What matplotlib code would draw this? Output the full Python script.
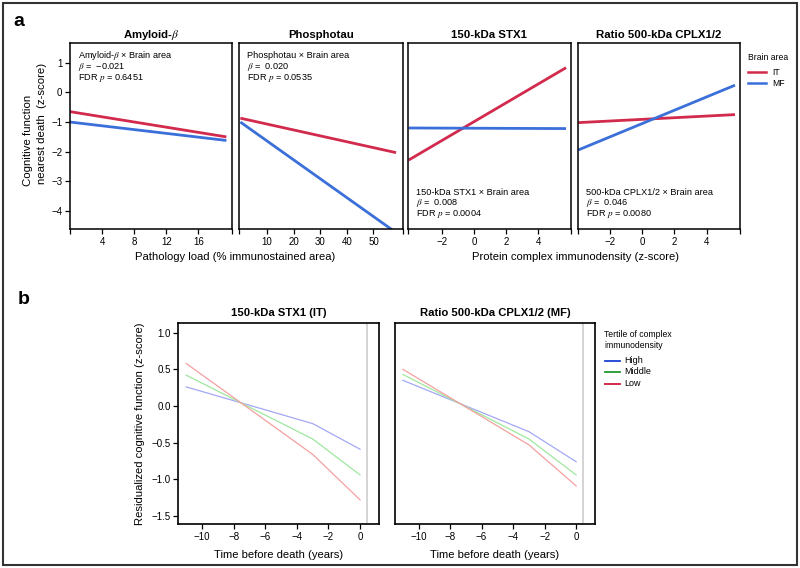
import matplotlib
matplotlib.use("Agg")
import matplotlib.pyplot as plt
from matplotlib.patches import Rectangle
from matplotlib.lines import Line2D

plt.rcParams['font.family'] = ['Liberation Sans', 'DejaVu Sans']
plt.rcParams['mathtext.fontset'] = 'stix'
plt.rcParams['axes.unicode_minus'] = True

# --- Data: panel a (fitted lines, IT vs MF) --- #
amyloid_x = [0, 19.5]
amyloid_it = [-0.65, -1.50]
amyloid_mf = [-1.00, -1.62]

phospho_x = [0, 58.5]
phospho_it = [-0.87, -2.03]
phospho_mf = [-1.00, -4.72]

stx1_x = [-4.1, 5.75]
stx1_it = [-2.28, 0.83]
stx1_mf = [-1.20, -1.22]

cplx_x = [-3.96, 5.75]
cplx_it = [-1.02, -0.75]
cplx_mf = [-1.94, 0.24]

# --- Data: panel b (tertile trajectories) --- #
time_x = [-11, -3, 0]
stx1_high = [0.26, -0.24, -0.59]
stx1_mid = [0.42, -0.45, -0.94]
stx1_low = [0.58, -0.66, -1.28]
cplx_high = [0.35, -0.35, -0.76]
cplx_mid = [0.43, -0.45, -0.94]
cplx_low = [0.50, -0.53, -1.09]

RED = '#d22a4c'
BLUE = '#3b6fd9'
W, H = 800, 568


def px_axes(fig, x0, x1, y0, y1):
    # pixel box (top-down y) -> figure axes
    return fig.add_axes([x0 / W, 1 - y1 / H, (x1 - x0) / W, (y1 - y0) / H])


def fx(x):
    return x / W


def fy(y):
    return 1 - y / H


def style_box(ax, lw=1.1):
    for s in ax.spines.values():
        s.set_linewidth(lw)
        s.set_color('black')
    ax.tick_params(direction='out', length=3.5, width=0.9, labelsize=7, pad=2)


fig = plt.figure(figsize=(W / 100, H / 100), dpi=100)

# outer frame
fig.patches.append(Rectangle((fx(3), fy(565)), fx(794), 562 / H, transform=fig.transFigure,
                             fill=False, edgecolor='#333333', linewidth=1.5))

# --- Panel a --- #
panels_a = [
    ('Amyloid-$\\mathit{\\beta}$', (70, 232), amyloid_x, amyloid_it, amyloid_mf, (0, 20.2), [4, 8, 12, 16],
     ['Amyloid-$\\beta$ × Brain area', '$\\beta$ =  −0.021', 'FDR $p$ = 0.6451'], 'top'),
    ('Phosphotau', (239.3, 402.7), phospho_x, phospho_it, phospho_mf, (-0.4, 61), [10, 20, 30, 40, 50],
     ['Phosphotau × Brain area', '$\\beta$ =  0.020', 'FDR $p$ = 0.0535'], 'top'),
    ('150-kDa STX1', (408.3, 570.7), stx1_x, stx1_it, stx1_mf, (-4.12, 6.04), [-2, 0, 2, 4],
     ['150-kDa STX1 × Brain area', '$\\beta$ =  0.008', 'FDR $p$ = 0.0004'], 'bottom'),
    ('Ratio 500-kDa CPLX1/2', (578.3, 740), cplx_x, cplx_it, cplx_mf, (-3.96, 6.06), [-2, 0, 2, 4],
     ['500-kDa CPLX1/2 × Brain area', '$\\beta$ =  0.046', 'FDR $p$ = 0.0080'], 'bottom'),
]

for i, (title, (x0, x1), xs, it, mf, xlim, xticks, notes, where) in enumerate(panels_a):
    ax = px_axes(fig, x0, x1, 43, 229)
    ax.plot(xs, it, color=RED, lw=2.0, solid_capstyle='butt')
    ax.plot(xs, mf, color=BLUE, lw=2.0, solid_capstyle='butt')
    ax.set_xlim(*xlim)
    ax.set_ylim(-4.6, 1.66)
    ax.set_xticks(xticks)
    ax.set_xticks(list(xlim), minor=True)
    style_box(ax)
    ax.tick_params(axis='x', which='minor', direction='out', length=3.5, width=0.9)
    if i == 0:
        ax.set_yticks([1, 0, -1, -2, -3, -4])
    else:
        ax.set_yticks([])
    fig.text(fx((x0 + x1) / 2), fy(35), title, fontsize=8.2, fontweight='bold',
             ha='center', va='center')
    ys = [56, 67, 78] if where == 'top' else [192.7, 203.2, 213.7]
    for t, yy in zip(notes, ys):
        fig.text(fx(x0 + 8), fy(yy), t, fontsize=6.6, va='center', ha='left')

fig.text(fx(28), fy(140), 'Cognitive function', rotation=90, fontsize=8.2, ha='center', va='center')
fig.text(fx(42), fy(123), 'nearest death  (z-score)', rotation=90, fontsize=8.2, ha='center', va='center')
fig.text(fx(235), fy(256.7), 'Pathology load (% immunostained area)', fontsize=8.1, ha='center', va='center')
fig.text(fx(575), fy(256.7), 'Protein complex immunodensity (z-score)', fontsize=8.1, ha='center', va='center')
fig.text(fx(13), fy(22), 'a', fontsize=14, fontweight='bold', ha='left', va='center')

# legend a
fig.text(fx(747.5), fy(58), 'Brain area', fontsize=6.2, ha='left', va='center')
for lab, col, yy in [('IT', RED, 72), ('MF', BLUE, 83)]:
    fig.add_artist(Line2D([fx(748), fx(766)], [fy(yy), fy(yy)], color=col, lw=1.8,
                          transform=fig.transFigure))
    fig.text(fx(772.5), fy(yy), lab, fontsize=6.2, ha='left', va='center')

# --- Panel b --- #
LIGHT = {'High': '#a3a8f5', 'Middle': '#9ee89e', 'Low': '#f5a0a0'}
DARK = {'High': '#1c3fd6', 'Middle': '#1e9a30', 'Low': '#d0163f'}
panels_b = [
    ('150-kDa STX1 (IT)', (178.3, 379), [stx1_high, stx1_mid, stx1_low]),
    ('Ratio 500-kDa CPLX1/2 (MF)', (395, 595), [cplx_high, cplx_mid, cplx_low]),
]
for i, (title, (x0, x1), series) in enumerate(panels_b):
    ax = px_axes(fig, x0, x1, 322.7, 524)
    ax.axvline(0.42, color='#d4d4d4', lw=1.4)
    for name, ys in zip(['High', 'Middle', 'Low'], series):
        ax.plot(time_x, ys, color=LIGHT[name], lw=0.9)
    ax.set_xlim(-11.5, 1.2)
    ax.set_ylim(-1.61, 1.136)
    ax.set_xticks([-10, -8, -6, -4, -2, 0])
    style_box(ax, lw=1.2)
    if i == 0:
        ax.set_yticks([1.0, 0.5, 0.0, -0.5, -1.0, -1.5])
        ax.set_yticklabels(['1.0', '0.5', '0.0', '−0.5', '−1.0', '−1.5'])
    else:
        ax.set_yticks([])
    fig.text(fx((x0 + x1) / 2), fy(313), title, fontsize=8.1, fontweight='bold',
             ha='center', va='center')
    fig.text(fx((x0 + x1) / 2), fy(555), 'Time before death (years)', fontsize=8.1,
             ha='center', va='center')

fig.text(fx(140), fy(424), 'Residualized cognitive function (z-score)', rotation=90, fontsize=8.1,
         ha='center', va='center')
fig.text(fx(18), fy(300), 'b', fontsize=14, fontweight='bold', ha='left', va='center')

# legend b
fig.text(fx(604), fy(340), 'Tertile of complex\nimmunodensity', fontsize=6.2, ha='left', va='center',
         linespacing=1.3)
for name, yy in [('High', 360.7), ('Middle', 372), ('Low', 383.7)]:
    fig.add_artist(Line2D([fx(605), fx(620)], [fy(yy), fy(yy)], color=DARK[name], lw=1.3,
                          transform=fig.transFigure))
    fig.text(fx(624), fy(yy), name, fontsize=6.5, ha='left', va='center')

fig.savefig('out.png', dpi=100)
